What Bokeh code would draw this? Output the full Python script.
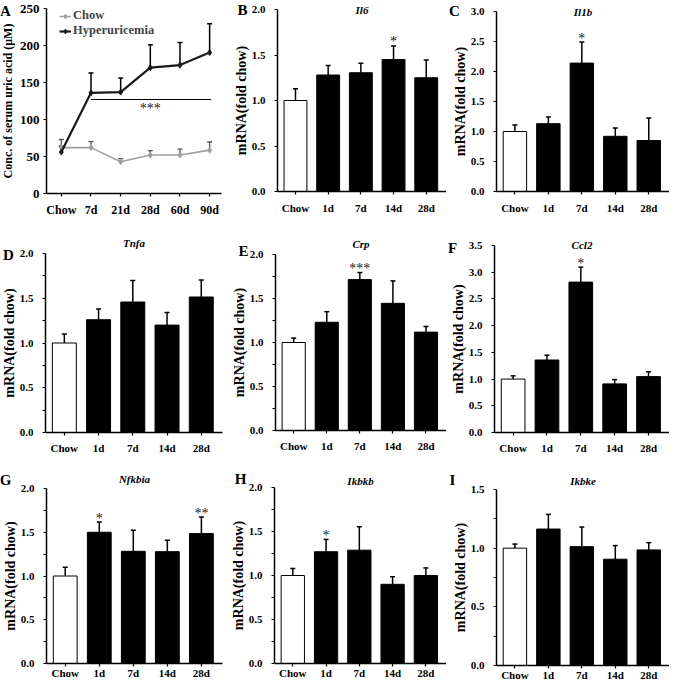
from bokeh.plotting import figure
from bokeh.models import (Range1d, FixedTicker, Label, Whisker, TeeHead, ColumnDataSource,
                          Legend, LegendItem, PrintfTickFormatter)
from bokeh.layouts import row, column
from bokeh.embed import file_html
from bokeh.resources import INLINE

FONT = "Liberation Serif"

# ---------------- data ----------------
# Panel A: serum uric acid (uM)
a_categories = ["Chow", "7d", "21d", "28d", "60d", "90d"]
a_chow = [62, 62, 43, 52, 52, 58.6]
a_chow_err = [11, 8, 4, 6, 8, 11]
a_hyper = [56, 136, 137, 170, 173.5, 190.5]
a_hyper_err = [8, 27, 19, 31, 30.5, 39]
a_yticks = [0, 50, 100, 150, 200, 250]
a_sig_from, a_sig_to = "7d", "90d"
a_sig_level = 127
a_sig_text = "***"

# Panels B-I: mRNA (fold chow)
bar_categories = ["Chow", "1d", "7d", "14d", "28d"]

il6 = [1.0, 1.28, 1.305, 1.45, 1.25]
il6_err = [0.13, 0.105, 0.105, 0.15, 0.195]
il6_stars = {"14d": "*"}

il1b = [1.0, 1.13, 2.14, 0.92, 0.85]
il1b_err = [0.11, 0.11, 0.35, 0.14, 0.376]
il1b_stars = {"7d": "*"}

tnfa = [1.0, 1.26, 1.458, 1.20, 1.514]
tnfa_err = [0.10, 0.12, 0.24, 0.14, 0.19]
tnfa_stars = {}

crp = [1.0, 1.23, 1.715, 1.445, 1.118]
crp_err = [0.05, 0.12, 0.08, 0.255, 0.064]
crp_stars = {"7d": "***"}

ccl2 = [1.0, 1.357, 2.815, 0.91, 1.046]
ccl2_err = [0.06, 0.09, 0.28, 0.08, 0.09]
ccl2_stars = {"7d": "*"}

nfkbia = [1.0, 1.5, 1.282, 1.278, 1.485]
nfkbia_err = [0.10, 0.117, 0.24, 0.13, 0.188]
nfkbia_stars = {"1d": "*", "28d": "**"}

ikbkb = [1.0, 1.27, 1.288, 0.90, 1.0]
ikbkb_err = [0.08, 0.14, 0.266, 0.086, 0.086]
ikbkb_stars = {"1d": "*"}

ikbke = [1.0, 1.163, 1.013, 0.906, 0.985]
ikbke_err = [0.035, 0.125, 0.167, 0.116, 0.062]
ikbke_stars = {}

yt_2 = [0, 0.5, 1.0, 1.5, 2.0]
ym_2 = [0.25, 0.75, 1.25, 1.75]
yt_3 = [0, 0.5, 1.0, 1.5, 2.0, 2.5, 3.0]
yt_35 = [0, 0.5, 1.0, 1.5, 2.0, 2.5, 3.0, 3.5]
yt_15 = [0, 0.5, 1.0, 1.5]
ym_15 = [0.25, 0.75, 1.25]

W, H = 223, 227


def make_fig(borders, x0, x1, y1, xstand):
    """Figure whose frame fills the whole canvas; the axes sit at fixed data
    locations so that the panel letters and titles around them stay visible."""
    bl, br, bt, bb = borders
    ux = (x1 - x0) / (W - bl - br)
    uy = y1 / (H - bt - bb)
    p = figure(width=W, height=H,
               x_range=Range1d(x0 - bl * ux, x1 + br * ux),
               y_range=Range1d(-bb * uy, y1 + bt * uy),
               output_backend="svg", toolbar_location=None,
               min_border_left=0, min_border_right=0, min_border_top=0, min_border_bottom=0)
    p.outline_line_color = None
    p.xgrid.visible = False
    p.ygrid.visible = False
    p.background_fill_color = "white"
    p.border_fill_color = "white"
    p.xaxis.fixed_location = 0
    p.xaxis.bounds = (x0, x1)
    p.yaxis.fixed_location = x0
    p.yaxis.bounds = (0, y1)
    for ax in p.axis:
        ax.axis_line_width = 1.5
        ax.axis_line_color = "black"
        ax.major_tick_line_width = 1.2
        ax.minor_tick_line_width = 1.2
        ax.major_tick_in = 0
        ax.major_tick_out = 3
        ax.minor_tick_in = 0
        ax.minor_tick_out = 3
        ax.major_label_text_font = FONT
        ax.major_label_text_font_style = "bold"
        ax.major_label_text_color = "black"
        ax.axis_label_text_font = FONT
        ax.axis_label_text_font_style = "bold"
        ax.axis_label_text_color = "black"
    p.xaxis.major_label_standoff = xstand
    return p


def letter_label(p, letter, x, y, off):
    p.add_layout(Label(x=x, y=y, x_offset=off[0], y_offset=off[1], text=letter,
                       text_font=FONT, text_font_style="bold", text_font_size="15px",
                       text_align="center", text_baseline="middle", text_color="black"))


def make_bar(letter, gene, vals, errs, stars, ymax, yticks, yminor, borders, xstand,
             title_off, letter_off):
    xs = list(range(len(bar_categories)))
    x0, x1 = -0.55, len(xs) - 0.38
    p = make_fig(borders, x0, x1, ymax, xstand)
    colors = ["white" if c == "Chow" else "black" for c in bar_categories]
    src = ColumnDataSource(dict(x=xs, top=vals,
                                upper=[v + e for v, e in zip(vals, errs)], color=colors))
    p.vbar(x="x", top="top", bottom=0, width=0.7, fill_color="color", line_color="black",
           line_width=1, source=src)
    p.add_layout(Whisker(base="x", lower="top", upper="upper", source=src, dimension="height",
                         line_color="black", line_width=1.5,
                         upper_head=TeeHead(size=5, line_width=1.5, line_color="black"),
                         lower_head=None))
    for cat, s in stars.items():
        i = bar_categories.index(cat)
        p.add_layout(Label(x=i, y=vals[i] + errs[i], y_offset=4, text=s, text_font=FONT,
                           text_font_size="14px", text_align="center",
                           text_baseline="middle", text_color="#202020"))
    p.xaxis.major_label_text_font_size = "11px"
    p.yaxis.major_label_text_font_size = "11px"
    p.xaxis.ticker = FixedTicker(ticks=xs)
    p.xaxis.major_label_overrides = {i: c for i, c in enumerate(bar_categories)}
    p.yaxis.ticker = FixedTicker(ticks=yticks, minor_ticks=yminor)
    p.yaxis.formatter = PrintfTickFormatter(format="%.1f")
    p.yaxis.major_label_standoff = 9
    p.yaxis.axis_label = "mRNA(fold chow)"
    p.yaxis.axis_label_text_font_size = "14px"
    p.yaxis.axis_label_standoff = 0
    p.add_layout(Label(x=(x0 + x1) / 2, y=ymax, y_offset=title_off, text=gene, text_font=FONT,
                       text_font_style="bold italic", text_font_size="11px",
                       text_align="center", text_baseline="middle", text_color="black"))
    letter_label(p, letter, x0, ymax, letter_off)
    return p


# ---------------- panel A ----------------
xa = list(range(len(a_categories)))
a_borders = (46, 2, 8, 34)
pa = make_fig(a_borders, -0.5, len(xa) - 0.6, 250, 6)
src_c = ColumnDataSource(dict(x=xa, y=a_chow, up=[v + e for v, e in zip(a_chow, a_chow_err)]))
src_h = ColumnDataSource(dict(x=xa, y=a_hyper, up=[v + e for v, e in zip(a_hyper, a_hyper_err)]))
pa.add_layout(Whisker(base="x", lower="y", upper="up", source=src_c, dimension="height",
                      line_color="#555555", line_width=1.3,
                      upper_head=TeeHead(size=5, line_width=1.3, line_color="#555555"),
                      lower_head=None))
pa.add_layout(Whisker(base="x", lower="y", upper="up", source=src_h, dimension="height",
                      line_color="black", line_width=1.5,
                      upper_head=TeeHead(size=5, line_width=1.5, line_color="black"),
                      lower_head=None))
lc = pa.line("x", "y", source=src_c, line_color="#a0a0a0", line_width=1.6)
sc = pa.scatter("x", "y", source=src_c, marker="diamond", size=6, fill_color="#a0a0a0",
                line_color="#a0a0a0")
lh = pa.line("x", "y", source=src_h, line_color="#1a1a1a", line_width=2.2)
sh = pa.scatter("x", "y", source=src_h, marker="diamond", size=6, fill_color="#1a1a1a",
                line_color="#1a1a1a")
i0, i1 = a_categories.index(a_sig_from), a_categories.index(a_sig_to)
pa.line([i0, i1 + 0.05], [a_sig_level, a_sig_level], line_color="black", line_width=1.2)
pa.add_layout(Label(x=(i0 + i1) / 2, y=a_sig_level, y_offset=-9, text=a_sig_text, text_font=FONT,
                    text_font_size="14px", text_align="center", text_baseline="middle",
                    text_color="#202020"))
pa.xaxis.major_label_text_font_size = "12px"
pa.yaxis.major_label_text_font_size = "13px"
pa.xaxis.ticker = FixedTicker(ticks=xa)
pa.xaxis.major_label_overrides = {i: c for i, c in enumerate(a_categories)}
pa.yaxis.ticker = FixedTicker(ticks=a_yticks)
pa.yaxis.major_label_standoff = 4
pa.yaxis.axis_label = "Conc. of serum uric acid (\u03bcM)"
pa.yaxis.axis_label_text_font_size = "12px"
pa.yaxis.axis_label_standoff = 2
legend = Legend(items=[LegendItem(label="Chow", renderers=[lc, sc]),
                       LegendItem(label="Hyperuricemia", renderers=[lh, sh])],
                location=(a_borders[0] + 13, 189))
legend.label_text_font = FONT
legend.label_text_font_style = "bold"
legend.label_text_font_size = "12.5px"
legend.background_fill_alpha = 0
legend.border_line_color = None
legend.padding = 0
legend.margin = 0
legend.spacing = 0
legend.glyph_width = 12
legend.glyph_height = 12
legend.label_standoff = 2
legend.label_height = 13
pa.add_layout(legend)
letter_label(pa, "A", -0.5, 250, (-41, -2))

pb = make_bar("B", "Il6", il6, il6_err, il6_stars, 2.0, yt_2, [], (54, 0, 9, 36), 7, 0, (-35, 0))
pc = make_bar("C", "Il1b", il1b, il1b_err, il1b_stars, 3.0, yt_3, [], (50, 0, 11, 36), 7, 0, (-42, 1))
pd = make_bar("D", "Tnfa", tnfa, tnfa_err, tnfa_stars, 2.0, yt_2, ym_2, (45, 1, 26, 22), 6, 11, (-37, -1))
pe = make_bar("E", "Crp", crp, crp_err, crp_stars, 2.0, yt_2, ym_2, (52, 0, 27, 24), 6, 11, (-32, 4))
pf = make_bar("F", "Ccl2", ccl2, ccl2_err, ccl2_stars, 3.5, yt_35, [], (48, 0, 18, 22), 6, 1, (-42, -2))
pg = make_bar("G", "Nfkbia", nfkbia, nfkbia_err, nfkbia_stars, 2.0, yt_2, ym_2, (46, 1, 34, 18), 0, 10, (-41, 9))
ph = make_bar("H", "Ikbkb", ikbkb, ikbkb_err, ikbkb_stars, 2.0, yt_2, ym_2, (51, 0, 33, 18), 0, 7, (-34, 9))
pi = make_bar("I", "Ikbke", ikbke, ikbke_err, ikbke_stars, 1.5, yt_15, ym_15, (50, 0, 35, 16), 0, 9, (-44, 10))

layout = column(row(pa, pb, pc, spacing=0), row(pd, pe, pf, spacing=0),
                row(pg, ph, pi, spacing=0), spacing=0)

with open("out.html", "w") as f:
    f.write(file_html(layout, INLINE))
